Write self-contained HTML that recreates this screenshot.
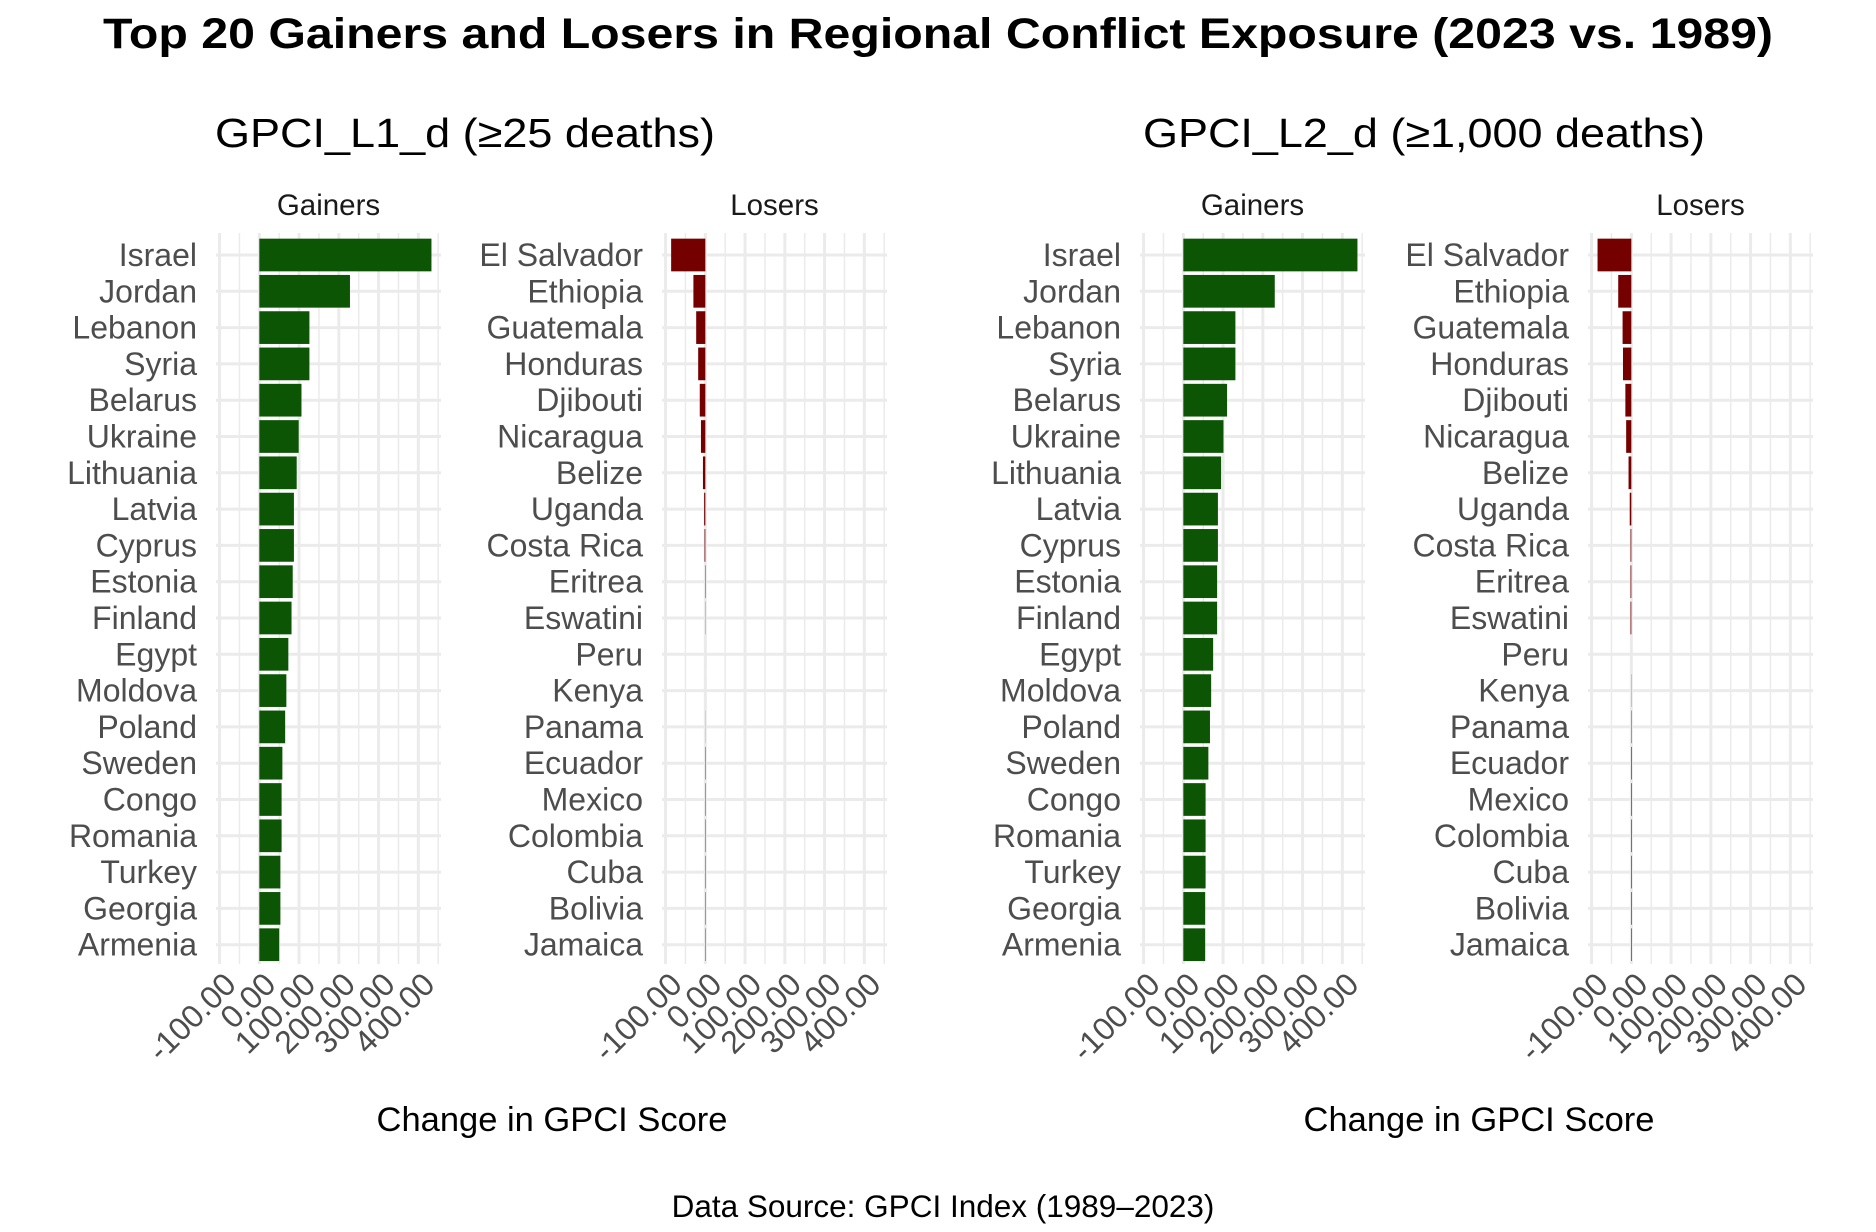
<!DOCTYPE html>
<html><head><meta charset="utf-8"><style>
body{margin:0;background:#fff;}
svg{display:block;font-family:"Liberation Sans",Arial,sans-serif;}
</style></head><body>
<svg id="chart" width="1876" height="1232" viewBox="0 0 1876 1232">
<text x="938" y="48" text-anchor="middle" font-size="43" font-weight="bold" textLength="1670" lengthAdjust="spacingAndGlyphs">Top 20 Gainers and Losers in Regional Conflict Exposure (2023 vs. 1989)</text>
<text x="215" y="147" font-size="41" textLength="500" lengthAdjust="spacingAndGlyphs">GPCI_L1_d (≥25 deaths)</text>
<text x="1143" y="147" font-size="41" textLength="562" lengthAdjust="spacingAndGlyphs">GPCI_L2_d (≥1,000 deaths)</text>
<text x="552" y="1131" text-anchor="middle" font-size="34.5">Change in GPCI Score</text>
<text x="1479" y="1131" text-anchor="middle" font-size="34.5">Change in GPCI Score</text>
<text x="943" y="1217" text-anchor="middle" font-size="31.5">Data Source: GPCI Index (1989–2023)</text>
<g id="panels"></g>
</svg>
<script>
const gainers = ["Israel","Jordan","Lebanon","Syria","Belarus","Ukraine","Lithuania","Latvia","Cyprus","Estonia","Finland","Egypt","Moldova","Poland","Sweden","Congo","Romania","Turkey","Georgia","Armenia"];
const losers = ["El Salvador","Ethiopia","Guatemala","Honduras","Djibouti","Nicaragua","Belize","Uganda","Costa Rica","Eritrea","Eswatini","Peru","Kenya","Panama","Ecuador","Mexico","Colombia","Cuba","Bolivia","Jamaica"];
const l1Gain = [433,228,126,126,106,99,94,87,87,84,81,73,68,65,58,56,56,53,53,50];
const l1Lose = [-86,-30,-23,-18,-14,-11,-6,-3,-2,1,-0.5,0,0,0.3,1,1,1,1,1,1];
const l2Gain = [438,230,131,131,110,101,95,87,87,85,85,75,70,67,63,56,56,56,55,55];
const l2Lose = [-85,-33,-22,-21,-15,-13,-7,-4,-2,-2,-2,0,0.5,1,1.5,1.5,1.5,1.5,1.5,1.5];
const tickVals = [-100,0,100,200,300,400];
const tickLabels = ["-100.00","0.00","100.00","200.00","300.00","400.00"];
const minorVals = [-50,50,150,250,350,450];

const NS="http://www.w3.org/2000/svg";
const root=document.getElementById('panels');
const DOM=[-109,457], PW=225, TOP=233, BOT=964, ROW0=255, ROWH=36.3;
function mk(tag,attrs,parent){const e=document.createElementNS(NS,tag);for(const k in attrs)e.setAttribute(k,attrs[k]);(parent||root).appendChild(e);return e;}
function drawPanel(left,strip,cats,vals,color,key){
  const g=mk('g',{});
  
  
  const x=v=>left+(v-DOM[0])/(DOM[1]-DOM[0])*PW;
  const y=i=>ROW0+i*ROWH;
  minorVals.forEach(v=>{const l=mk('line',{x1:x(v),x2:x(v),y1:TOP,y2:BOT,stroke:'#ebebeb','stroke-width':1.5},g);
    
    });
  tickVals.forEach(v=>{const l=mk('line',{x1:x(v),x2:x(v),y1:TOP,y2:BOT,stroke:'#ebebeb','stroke-width':3},g);
    
    });
  cats.forEach((c,i)=>{const l=mk('line',{x1:left,x2:left+PW,y1:y(i),y2:y(i),stroke:'#ebebeb','stroke-width':3},g);
    
    });
  vals.forEach((v,i)=>{const x0=Math.min(x(0),x(v)),w=Math.abs(x(v)-x(0));
    const r=mk('rect',{x:x0,y:y(i)-16.35,width:Math.max(w,0.01),height:32.7,fill:color},g);
    
    });
  cats.forEach((c,i)=>{const t=mk('text',{x:left-19,y:y(i)+11,'text-anchor':'end','font-size':32,fill:'#4d4d4d'},g);t.textContent=c;
    
    });
  tickVals.forEach((v,i)=>{const t=mk('text',{transform:`translate(${x(v)+2},${BOT+6}) rotate(-45)`,'text-anchor':'end',dy:'0.72em','font-size':32,fill:'#4d4d4d'},g);t.textContent=tickLabels[i];
    
    });
  const s=mk('text',{x:left+PW/2,y:215,'text-anchor':'middle','font-size':29.5,fill:'#1a1a1a'},g);s.textContent=strip;
  
  
}
drawPanel(216,'Gainers',gainers,l1Gain,'#0b5504','l1-gainers');
drawPanel(662,'Losers',losers,l1Lose,'#750000','l1-losers');
drawPanel(1140,'Gainers',gainers,l2Gain,'#0b5504','l2-gainers');
drawPanel(1588,'Losers',losers,l2Lose,'#750000','l2-losers');
</script>
</body></html>
